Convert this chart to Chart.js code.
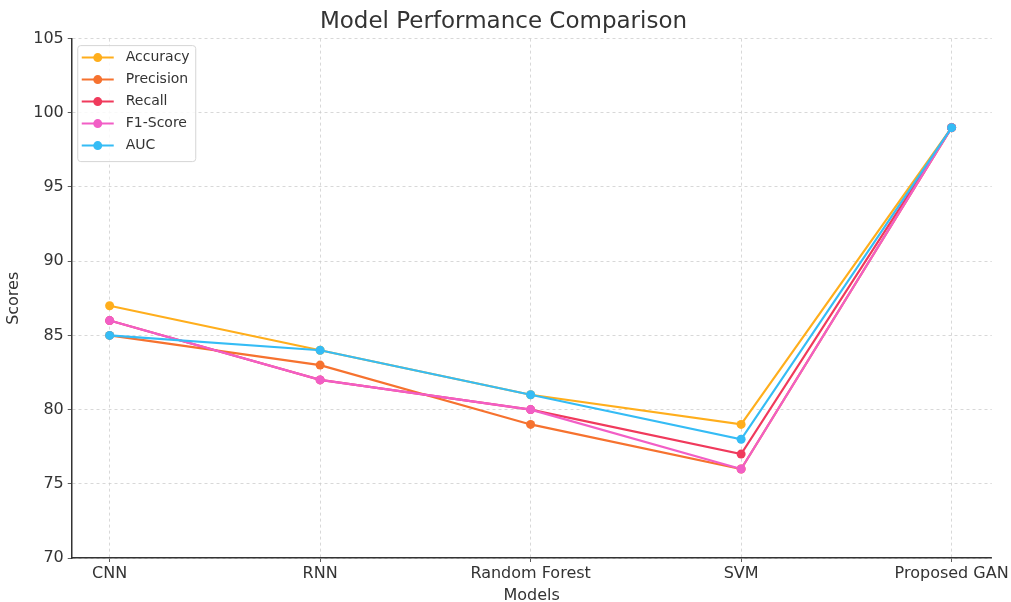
<!DOCTYPE html>
<html lang="en">
<head>
    <meta charset="UTF-8" />
    <title>Model Performance Comparison</title>
    <script src="https://cdn.jsdelivr.net/npm/chart.js"></script>
    <style>
        body {
            margin: 0;
            background: #ffffff;
        }

        .chart-box {
            width: 1011px;
            height: 602px;
        }
    </style>
</head>
<body>
    <div class="chart-box">
        <canvas id="perfChart"></canvas>
    </div>

    <script>
        const models = ['CNN', 'RNN', 'Random Forest', 'SVM', 'Proposed GAN'];
        const accuracy = [87, 84, 81, 79, 99];
        const precision = [85, 83, 79, 76, 99];
        const recall = [86, 82, 80, 77, 99];
        const f1Score = [86, 82, 80, 76, 99];
        const auc = [85, 84, 81, 78, 99];
        const yTicks = [70, 75, 80, 85, 90, 95, 100, 105];

        const seriesNames = ['Accuracy', 'Precision', 'Recall', 'F1-Score', 'AUC'];
        const seriesValues = [accuracy, precision, recall, f1Score, auc];
        const seriesColors = ['#ffae1c', '#f6722f', '#f03a5c', '#f25ec6', '#35bcf5'];

        const textColor = '#333333';
        const fontFamily = "'DejaVu Sans', sans-serif";

        // legend kotak di dalam area plot, kiri atas
        const innerLegend = {
            id: 'innerLegend',
            afterDatasetsDraw(chart) {
                const ctx = chart.ctx;
                const area = chart.chartArea;
                const x0 = area.left + 6, y0 = area.top + 7;
                const rowH = 22, w = 118, h = rowH * seriesNames.length + 6;
                ctx.save();
                ctx.fillStyle = 'rgba(255,255,255,0.85)';
                ctx.strokeStyle = '#d6d6d6';
                ctx.lineWidth = 1;
                ctx.beginPath();
                ctx.roundRect(x0, y0, w, h, 3);
                ctx.fill();
                ctx.stroke();
                ctx.font = '14px ' + fontFamily;
                ctx.textBaseline = 'middle';
                chart.data.datasets.forEach((ds, i) => {
                    const cy = y0 + 12 + i * rowH;
                    ctx.strokeStyle = ds.borderColor;
                    ctx.lineWidth = 2;
                    ctx.beginPath();
                    ctx.moveTo(x0 + 4, cy);
                    ctx.lineTo(x0 + 36, cy);
                    ctx.stroke();
                    ctx.fillStyle = ds.borderColor;
                    ctx.beginPath();
                    ctx.arc(x0 + 20, cy, 4.5, 0, Math.PI * 2);
                    ctx.fill();
                    ctx.fillStyle = textColor;
                    ctx.fillText(ds.label, x0 + 48, cy);
                });
                ctx.restore();
            }
        };

        const gridOpts = {
            color: '#cfcfcf',
            lineWidth: 0.8,
            tickLength: 4,
            tickColor: '#333333'
        };

        new Chart(document.getElementById('perfChart'), {
            type: 'line',
            data: {
                datasets: seriesNames.map((name, i) => ({
                    label: name,
                    data: seriesValues[i].map((v, j) => ({ x: j, y: v })),
                    borderColor: seriesColors[i],
                    backgroundColor: seriesColors[i],
                    borderWidth: 2.2,
                    pointRadius: 4.5,
                    pointHoverRadius: 4.5,
                    pointBorderWidth: 0,
                    tension: 0,
                    order: seriesNames.length - i
                }))
            },
            options: {
                responsive: true,
                maintainAspectRatio: false,
                animation: false,
                layout: {
                    padding: { left: 4, right: 8, bottom: 0 }
                },
                plugins: {
                    legend: { display: false },
                    tooltip: { enabled: false },
                    title: {
                        display: true,
                        text: 'Model Performance Comparison',
                        color: textColor,
                        font: { family: fontFamily, size: 23, weight: 'normal' },
                        padding: { top: 8, bottom: 3 }
                    }
                },
                scales: {
                    x: {
                        type: 'linear',
                        min: -0.18,
                        max: 4.19,
                        afterBuildTicks: (scale) => {
                            scale.ticks = models.map((m, i) => ({ value: i }));
                        },
                        afterFit: (scale) => {
                            scale.height = 44;
                        },
                        ticks: {
                            color: textColor,
                            font: { family: fontFamily, size: 16 },
                            padding: 2,
                            maxRotation: 0,
                            callback: (v) => models[v]
                        },
                        grid: gridOpts,
                        border: { color: '#333333', width: 1.5, dash: [3, 3] },
                        title: {
                            display: true,
                            text: 'Models',
                            color: textColor,
                            font: { family: fontFamily, size: 16 },
                            padding: { top: 0, bottom: -3 }
                        }
                    },
                    y: {
                        min: 70,
                        max: 105,
                        afterBuildTicks: (scale) => {
                            scale.ticks = yTicks.map(v => ({ value: v }));
                        },
                        ticks: {
                            color: textColor,
                            font: { family: fontFamily, size: 16 },
                            padding: 4
                        },
                        grid: gridOpts,
                        border: { color: '#333333', width: 1.5, dash: [3, 3] },
                        title: {
                            display: true,
                            text: 'Scores',
                            color: textColor,
                            font: { family: fontFamily, size: 16 },
                            padding: { top: 0, bottom: 6 }
                        }
                    }
                }
            },
            plugins: [innerLegend]
        });
    </script>
</body>
</html>
